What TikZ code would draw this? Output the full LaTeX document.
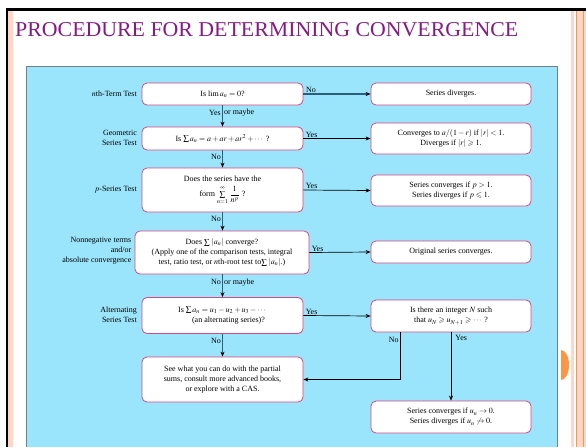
\documentclass[tikz,border=0pt]{standalone}
\usepackage{amsmath,amssymb}
\usepackage{mathptmx}
\usepackage{graphicx}
\usepackage{fontspec}
\setmainfont{Liberation Serif}
\usetikzlibrary{arrows.meta}
\definecolor{titlecol}{RGB}{135,25,135}
\definecolor{panel}{RGB}{155,229,252}
\definecolor{panelborder}{RGB}{110,130,140}
\definecolor{boxborder}{RGB}{214,70,128}
\definecolor{flow}{RGB}{45,95,120}
\definecolor{salmon}{RGB}{255,214,200}
\definecolor{orangeline}{RGB}{250,150,70}
\tikzset{
  box/.style={draw=boxborder, line width=0.8pt, fill=white, rounded corners=5pt,
    align=center, inner sep=1pt, minimum width=161pt},
  lab/.style={anchor=east, align=right, inner sep=0pt},
  mainarrow/.style={draw=flow, line width=1.4pt, -{Stealth[length=5pt,width=4pt,black]}},
  sidearrow/.style={draw=black, line width=0.7pt, -{Stealth[length=5pt,width=4pt,black]}},
  elab/.style={inner sep=1pt}
}
\begin{document}
\begin{tikzpicture}[x=1pt,y=-1pt,font=\fontsize{8}{10}\selectfont]
\useasboundingbox (0,0) rectangle (586,447);
\fill[white] (0,0) rectangle (586,447);
% frame decorations
\fill[salmon] (8,10) rectangle (13,447);
\fill[black] (6,8) rectangle (8,447);
\fill[black] (6,8) rectangle (586,10.5);
\fill[salmon] (570.5,10.5) rectangle (586,447);
\fill[white] (573.5,10.5) rectangle (576,447);
\fill[orangeline] (576.3,10.5) rectangle (577.3,447);
\fill[orangeline] (583,10.5) rectangle (584,447);
\fill[orangeline] (561,380) arc[start angle=-90,end angle=90,x radius=8,y radius=-15] -- cycle;
% title
\node[anchor=south west, inner sep=0pt, text=titlecol] (title) at (15,37)
  {\resizebox{503pt}{14pt}{PROCEDURE FOR DETERMINING CONVERGENCE}};
% panel
\fill[panel] (26,66) rectangle (557,447);
\draw[panelborder, line width=0.8pt] (26,447) -- (26,66) -- (557,66) -- (557,447);
% main column
\node[box, minimum height=22pt] (b1) at (222.5,94) {Is $\lim a_n = 0$?};
\node[box, minimum height=23pt] (b2) at (222.5,138.5) {Is $\sum a_n = a + ar + ar^2 + \cdots$ ?};
\node[box, minimum height=44pt] (b3) at (222.5,190) {Does the series have the\\[4pt] form $\sum\limits_{n=1}^{\infty}\,\dfrac{1}{n^p}$ ?};
\node[box, minimum height=43pt, minimum width=174pt] (b4) at (222,252.5) {Does $\sum\,|a_n|$ converge?\\(Apply one of the comparison tests, integral\\test, ratio test, or $n$th-root test to$\sum\,|a_n|$.)};
\node[box, minimum height=36pt] (b5) at (222.5,315.5) {Is $\sum a_n = u_1 - u_2 + u_3 - \cdots$\\\hspace*{12pt}(an alternating series)?};
\node[box, minimum height=45pt] (b6) at (222.5,379.5) {See what you can do with the partial\\sums, consult more advanced books,\\or explore with a CAS.};
% right column
\node[box, minimum width=160pt, minimum height=22pt] (r1) at (451,94) {Series diverges.};
\node[box, minimum width=160pt, minimum height=31pt] (r2) at (451,138.5) {Converges to $a/(1-r)$ if $|r|<1$.\\Diverges if $|r|\geqslant 1$.};
\node[box, minimum width=160pt, minimum height=31pt] (r3) at (451,190.5) {Series converges if $p>1$.\\Series diverges if $p\leqslant 1$.};
\node[box, minimum width=160pt, minimum height=22pt] (r4) at (451,252) {Original series converges.};
\node[box, minimum width=160pt, minimum height=32pt] (r5) at (451,316) {Is there an integer $N$ such\\that $u_N\geqslant u_{N+1}\geqslant\cdots$ ?};
\node[box, minimum width=160pt, minimum height=32pt] (r6) at (451,417) {Series converges if $u_n\to 0$.\\Series diverges if $u_n\not\to 0$.};
% left labels
\node[lab] (l1) at (137,94) {$n$th-Term Test};
\node[lab] (l2) at (137,138) {Geometric\\Series Test};
\node[lab] (l3) at (137,190) {$p$-Series Test};
\node[lab] (l4) at (131.5,251) {Nonnegative terms\\and/or\\absolute convergence};
\node[lab] (l5) at (137,315) {Alternating\\Series Test};
% vertical arrows
\draw[mainarrow] (b1.south) -- node[elab, pos=0.35, left] {Yes} node[elab, pos=0.35, right] {or maybe} (b2.north);
\draw[mainarrow] (b2.south) -- node[elab, pos=0.35, left] {No} (b3.north);
\draw[mainarrow] (b3.south) -- node[elab, pos=0.35, left] {No} (b4.north -| b3.south);
\draw[mainarrow] (b4.south -| b5.north) -- node[elab, pos=0.35, left] {No} node[elab, pos=0.35, right] {or maybe} (b5.north);
\draw[mainarrow] (b5.south) -- node[elab, pos=0.3, left] {No} (b6.north);
% horizontal arrows
\draw[mainarrow, line width=1.2pt] (b1.east) -- node[elab, pos=0, anchor=south west, xshift=1pt] {No} (r1.west);
\draw[sidearrow] (b2.east) -- node[elab, pos=0, anchor=south west, xshift=1pt] {Yes} (r2.west);
\draw[sidearrow] (b3.east) -- node[elab, pos=0, anchor=south west, xshift=1pt] {Yes} (r3.west);
\draw[sidearrow] (b4.east) -- node[elab, pos=0, anchor=south west, xshift=1pt] {Yes} (r4.west);
\draw[sidearrow] (b5.east) -- node[elab, pos=0, anchor=south west, xshift=1pt] {Yes} (r5.west);
% from alternating check
\coordinate (rn) at ([xshift=-51pt]r5.south);
\draw[sidearrow] (rn) -- node[elab, pos=0.15, left] {No} (rn |- b6.east) -- (b6.east);
\draw[sidearrow] (r5.south) -- node[elab, pos=0.08, right, xshift=3pt] {Yes} (r6.north);
\end{tikzpicture}
\end{document}
